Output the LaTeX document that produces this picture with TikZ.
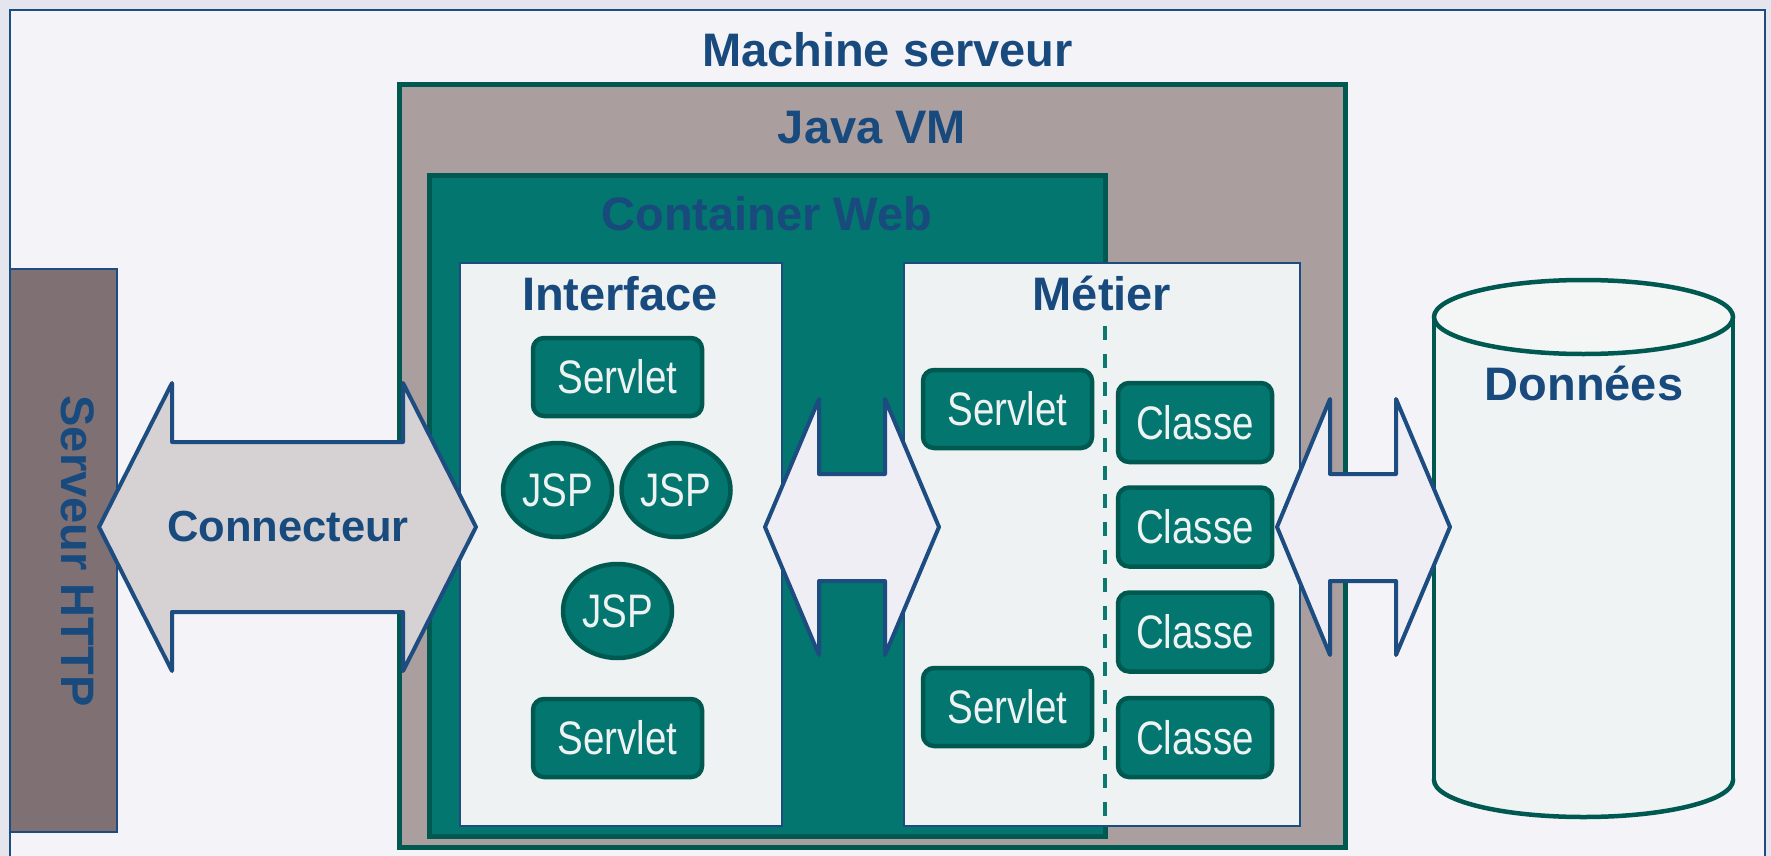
\documentclass[tikz,border=0pt]{standalone}
\usepackage{fontspec}
\setmainfont{Liberation Sans}
\newfontfamily\narrowfont[FakeStretch=0.82]{Liberation Sans}
\usetikzlibrary{shapes.geometric}

\definecolor{txtblue}{RGB}{24,74,125}
\definecolor{lineblue}{RGB}{28,76,128}
\definecolor{outerbg}{RGB}{229,229,237}
\definecolor{framefill}{RGB}{243,243,248}
\definecolor{httpfill}{RGB}{127,112,115}
\definecolor{connfill}{RGB}{214,209,211}
\definecolor{vmfill}{RGB}{170,158,159}
\definecolor{tealfill}{RGB}{2,118,111}
\definecolor{darkteal}{RGB}{0,89,80}
\definecolor{layerfill}{RGB}{238,242,243}
\definecolor{arrowfill}{RGB}{239,238,245}
\definecolor{cylfill}{RGB}{239,243,243}
\definecolor{cyltop}{RGB}{244,246,245}
\definecolor{comptext}{RGB}{238,242,242}
\definecolor{dashteal}{RGB}{10,122,112}

\begin{document}
\begin{tikzpicture}[x=1pt,y=-1pt,
  region/.style={anchor=north west, inner sep=0pt, outer sep=0pt},
  title/.style={font=\bfseries\fontsize{47}{56}\selectfont, text=txtblue, inner sep=0pt},
  comp/.style={draw=darkteal, fill=tealfill, line width=4.5pt, rounded corners=11pt,
    text=comptext, font=\narrowfont\fontsize{47}{56}\selectfont, inner sep=0pt,
    minimum width=169pt, minimum height=78pt},
  classbox/.style={comp, minimum width=154pt, minimum height=79pt},
  jsp/.style={ellipse, draw=darkteal, fill=tealfill, line width=4.5pt,
    text=comptext, font=\narrowfont\fontsize{47}{56}\selectfont, inner sep=0pt,
    minimum width=109pt, minimum height=94pt},
  blockarrow/.style={draw=lineblue, line width=4pt, line join=round},
  cylline/.style={draw=darkteal, line width=4.5pt}
]
\useasboundingbox (0,0) rectangle (1771,856);
\clip (0,0) rectangle (1771,856);

% page and outer frame
\fill[outerbg] (0,0) rectangle (1771,856);
\draw[fill=framefill, draw=lineblue, line width=2.5pt] (10,10) rectangle (1765,900);
\node[title, anchor=base] (machine) at (887.5,67) {Machine serveur};

% HTTP server column
\node[region, fill=httpfill, draw=lineblue, line width=1.5pt,
  minimum width=107pt, minimum height=563pt] (http) at (10,269) {};
\node[title, rotate=-90] (httplabel) at (78,551) {Serveur HTTP};

% nested containers
\node[region, fill=vmfill, draw=darkteal, line width=5pt,
  minimum width=946pt, minimum height=762pt] (jvm) at (399,85) {};
\node[title, anchor=base] (jvmlabel) at (872,143) {Java VM};

\node[region, fill=tealfill, draw=darkteal, line width=5pt,
  minimum width=676pt, minimum height=661pt] (web) at (429,175) {};
\node[title, anchor=base] (weblabel) at (767,230) {Container Web};

\node[region, fill=layerfill, draw=lineblue, line width=2pt,
  minimum width=322pt, minimum height=563pt] (iface) at (460,263) {};
\node[title, anchor=base] (ifacelabel) at (620,310) {Interface};

\node[region, fill=layerfill, draw=lineblue, line width=2pt,
  minimum width=396pt, minimum height=563pt] (metier) at (904,263) {};
\node[title, anchor=base] (metierlabel) at (1102,310) {Métier};

% presentation layer components
\node[comp] (srv1) at (617.5,377) {Servlet};
\node[jsp] (jsp1) at (557.5,490) {JSP};
\node[jsp] (jsp2) at (676,490) {JSP};
\node[jsp] (jsp3) at (617.5,611) {JSP};
\node[comp] (srv2) at (617.5,738) {Servlet};

% business layer components
\node[comp] (msrv1) at (1007.5,409) {Servlet};
\node[comp] (msrv2) at (1007.5,707) {Servlet};
\coordinate (sepTop) at (1105,326);
\coordinate (sepBot) at (1105,822);
\draw[dashteal, line width=4pt, dash pattern=on 14pt off 14pt] (sepTop) -- (sepBot);
\node[classbox] (cl1) at (1195,422.5) {Classe};
\node[classbox] (cl2) at (1195,527) {Classe};
\node[classbox] (cl3) at (1195,632) {Classe};
\node[classbox] (cl4) at (1195,737.5) {Classe};

% data store cylinder
\filldraw[fill=cylfill, cylline] (1583.5,780) ellipse [x radius=149.5pt, y radius=37pt];
\fill[cylfill] (1434,317) rectangle (1733,780);
\draw[cylline] (1434,317) -- (1434,780);
\draw[cylline] (1733,317) -- (1733,780);
\filldraw[fill=cyltop, cylline] (1583.5,317) ellipse [x radius=149.5pt, y radius=37pt];
\node[title, anchor=base] (data) at (1584,400) {Données};

% block arrows
\draw[blockarrow, fill=connfill]
  (99,527) -- (172,383) -- (172,442) -- (403,442) -- (403,383) -- (476,527)
  -- (403,671) -- (403,612) -- (172,612) -- (172,671) -- cycle;
\node[font=\bfseries\fontsize{43.5}{52}\selectfont, text=txtblue, inner sep=0pt]
  (conn) at (288,527) {Connecteur};

\draw[blockarrow, fill=arrowfill]
  (765,527) -- (819,399) -- (819,474) -- (885,474) -- (885,399) -- (939,527)
  -- (885,655) -- (885,581) -- (819,581) -- (819,655) -- cycle;

\draw[blockarrow, fill=arrowfill]
  (1277,527) -- (1330,399) -- (1330,474) -- (1396,474) -- (1396,399) -- (1450,527)
  -- (1396,655) -- (1396,581) -- (1330,581) -- (1330,655) -- cycle;
\end{tikzpicture}
\end{document}
